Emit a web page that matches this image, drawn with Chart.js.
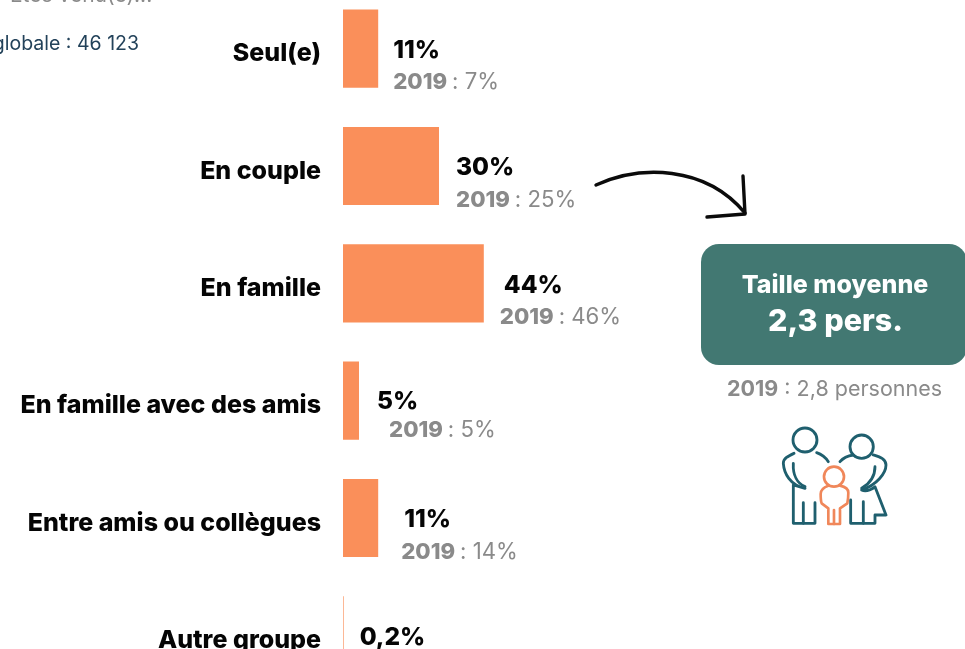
<!DOCTYPE html>
<html lang="fr"><head><meta charset="utf-8">
<script src="https://cdn.jsdelivr.net/npm/chart.js@4"></script>
<style>
html,body{margin:0;padding:0;background:#fff;width:965px;height:649px;overflow:hidden;font-family:Inter,sans-serif}
#wrap{position:absolute;left:0;top:-47px;width:965px;height:778px}
.t{position:absolute;white-space:nowrap}
#box{position:absolute;left:701px;top:244px;width:266px;height:121px;background:#427872;border-radius:18px;color:#fff;text-align:center;font-weight:800}
</style></head><body>
<div id="wrap"><canvas id="c" width="965" height="778"></canvas></div>
<div class="t" style="right:826px;top:31px;font-size:19.5px;color:#23425a">Base globale : 46 123</div>
<div class="t" style="left:10px;top:-18px;font-size:21px;color:#8a8a8a">Êtes venu(e)...</div>
<svg style="position:absolute;left:0;top:0" width="965" height="649" fill="none" stroke-linecap="round" stroke-linejoin="round">
<path d="M596 185C640 165 705 165 745 213" stroke="#0b0b0b" stroke-width="3.4"/>
<path d="M743 176L745 214L707 217" stroke="#0b0b0b" stroke-width="3.4"/>
<g transform="translate(760 420) scale(.3333)">
<g stroke="#1f5f6e" stroke-width="8.5">
<circle cx="135" cy="60" r="36"/><circle cx="305" cy="80" r="35"/>
<path d="M102 100C85 108 70 115 70 130C72 160 90 195 135 205L100 195V310H165V248"/>
<path d="M130 248V310"/>
<path d="M100 130C98 165 112 190 135 200"/>
<path d="M170 98C185 103 197 113 205 125"/>
<path d="M240 125C250 113 265 107 280 105"/>
<path d="M340 105C360 110 378 118 378 135C378 160 350 195 305 210C320 218 340 205 345 200L378 285H345V310H272V240"/>
<path d="M310 245V310"/>
<path d="M345 140C345 170 330 190 305 205"/>
</g>
<g stroke="#f0875a" stroke-width="8">
<circle cx="222" cy="170" r="30"/>
<path d="M205 197C190 202 182 208 182 222C182 238 183 245 185 250L205 265V312H240V265L262 250C264 240 265 230 265 218C265 208 255 200 240 197"/>
<path d="M222 270V312"/>
</g>
</g>
</svg>
<div id="box"><div style="position:absolute;left:0;right:-2px;top:25px;font-size:25px">Taille moyenne</div><div style="position:absolute;left:0;right:-3px;top:57px;font-size:30.5px">2,3 pers.</div></div>
<div class="t" style="left:727px;top:375px;font-size:21.5px;color:#8a8a8a"><b>2019</b> : 2,8 personnes</div>
<script>
const categories=["Seul(e)","En couple","En famille","En famille avec des amis","Entre amis ou collègues","Autre groupe"];
const values2023=[11,30,44,5,11,0.2];
const values2019=[7,25,46,5,14,null];
const valueLabels=["11%","30%","44%","5%","11%","0,2%"];
const labels2019=[": 7%",": 25%",": 46%",": 5%",": 14%",null];
const mainLabelGap=[15,17,20,18,26,16];
const subLabelGap=[15,17,16,30,23,0];
const mainDy=[2,2,2,1,2,2];
const subDy=[34,34,34,30,34,0];
const FF='Inter, sans-serif';
const labelsPlugin={id:'valueText',afterDatasetsDraw(ch){
  const g=ch.ctx,m=ch.getDatasetMeta(0).data;
  g.save();g.textBaseline='middle';g.textAlign='left';
  m.forEach((b,i)=>{
    g.font='800 24.5px '+FF;g.fillStyle='#050505';
    g.fillText(valueLabels[i],b.x+mainLabelGap[i],b.y+mainDy[i]);
    if(labels2019[i]){
      const x=b.x+subLabelGap[i],y=b.y+subDy[i];
      g.font='800 22.2px '+FF;g.fillStyle='#8a8a8a';
      g.fillText('2019',x,y);
      const w=g.measureText('2019 ').width;
      g.font='400 22.2px '+FF;
      g.fillText(labels2019[i],x+w,y);
    }
  });
  g.restore();
}};
new Chart(document.getElementById('c'),{
  type:'bar',
  data:{labels:categories,datasets:[{data:values2023,backgroundColor:'#fa8f5a',barPercentage:1,categoryPercentage:78/117.2,borderWidth:0}]},
  options:{
    indexAxis:'y',responsive:false,animation:false,
    layout:{padding:0},
    plugins:{legend:{display:false},tooltip:{enabled:false},title:{display:false}},
    scales:{
      x:{min:0,max:622/3.2,display:false},
      y:{afterFit(s){s.width=343},border:{display:false},grid:{display:false,drawTicks:false},
        ticks:{padding:22,labelOffset:5,color:'#050505',font:{family:FF,weight:'800',size:25},autoSkip:false}}
    }
  },
  plugins:[labelsPlugin]
});
</script>
</body></html>
